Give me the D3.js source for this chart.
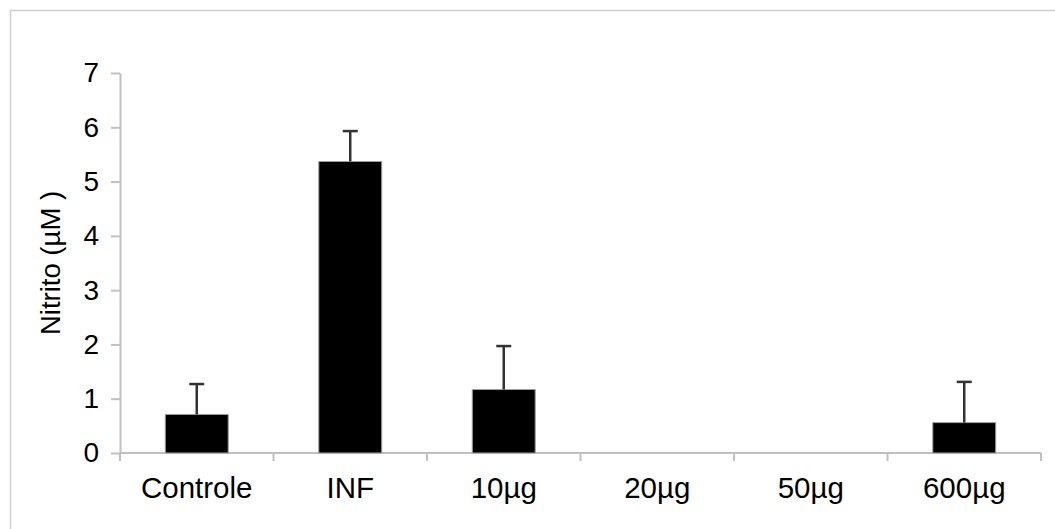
<!DOCTYPE html>
<html>
<head>
<meta charset="utf-8">
<script src="https://cdn.jsdelivr.net/npm/d3@7"></script>
<style>
  html, body { margin: 0; padding: 0; background: #fff; }
  svg { display: block; }
  text { font-family: "Liberation Sans", Arial, sans-serif; fill: #000; }
</style>
</head>
<body>
<svg id="chart" width="1055" height="529"></svg>
<script>
// Nitrite concentration per treatment group (mean and standard deviation, µM)
const categories = ["Controle", "INF", "10µg", "20µg", "50µg", "600µg"];
const means      = [0.71, 5.37, 1.17, 0, 0, 0.56];
const errors     = [0.56, 0.56, 0.80, 0, 0, 0.75];
const yTicks     = [0, 1, 2, 3, 4, 5, 6, 7];
const yLabel     = "Nitrito (µM )";

const svg = d3.select("#chart");
const margin = { left: 120, right: 1041, top: 73, bottom: 453 };

// outer frame of the chart area
svg.append("rect")
  .attr("x", 10.5).attr("y", 10.5)
  .attr("width", 1100).attr("height", 600)
  .attr("fill", "none").attr("stroke", "#d0d0d0").attr("stroke-width", 1.5);

const x = d3.scaleBand().domain(categories).range([margin.left, margin.right]).padding(0);
const y = d3.scaleLinear().domain([0, 7]).range([margin.bottom, margin.top]);

const axisColor = "#c0c0c0";

// y axis
const yAxis = svg.append("g")
  .attr("transform", `translate(${margin.left},0)`)
  .call(d3.axisLeft(y).tickValues(yTicks).tickFormat(d3.format("d")).tickSize(9).tickSizeOuter(0).tickPadding(12));
yAxis.select(".domain").attr("stroke", axisColor).attr("stroke-width", 2);
yAxis.selectAll(".tick line").attr("stroke", axisColor).attr("stroke-width", 2);
yAxis.selectAll(".tick text").attr("font-size", 28).attr("fill", "#000")
  .attr("font-family", "Liberation Sans, Arial, sans-serif");

// x axis: ticks sit on category boundaries
const xAxisG = svg.append("g").attr("transform", `translate(0,${margin.bottom})`);
xAxisG.append("line")
  .attr("x1", margin.left).attr("x2", margin.right)
  .attr("y1", 0).attr("y2", 0)
  .attr("stroke", axisColor).attr("stroke-width", 2);
const boundaries = categories.map(c => x(c)).concat([x(categories[categories.length - 1]) + x.bandwidth()]);
xAxisG.selectAll("line.tick")
  .data(boundaries)
  .join("line")
  .attr("class", "tick")
  .attr("x1", d => d).attr("x2", d => d)
  .attr("y1", 0).attr("y2", 8)
  .attr("stroke", axisColor).attr("stroke-width", 2);
xAxisG.selectAll("text")
  .data(categories)
  .join("text")
  .attr("x", d => x(d) + x.bandwidth() / 2)
  .attr("y", 45)
  .attr("text-anchor", "middle")
  .attr("font-size", 29.5)
  .text(d => d);

// bars
const barW = x.bandwidth() * 0.41;
const data = categories.map((c, i) => ({ c, v: means[i], e: errors[i] }));

svg.append("g").selectAll("rect")
  .data(data.filter(d => d.v > 0))
  .join("rect")
  .attr("x", d => x(d.c) + (x.bandwidth() - barW) / 2)
  .attr("y", d => y(d.v))
  .attr("width", barW)
  .attr("height", d => y(0) - y(d.v))
  .attr("fill", "#000")
  .attr("stroke", "#a0a0a0")
  .attr("stroke-width", 1);

// error bars (upper side with cap)
const errG = svg.append("g").attr("stroke", "#333").attr("stroke-width", 2.5);
data.filter(d => d.e > 0).forEach(d => {
  const cx = x(d.c) + x.bandwidth() / 2;
  errG.append("line")
    .attr("x1", cx).attr("x2", cx)
    .attr("y1", y(d.v)).attr("y2", y(d.v + d.e));
  errG.append("line")
    .attr("x1", cx - 7.5).attr("x2", cx + 7.5)
    .attr("y1", y(d.v + d.e)).attr("y2", y(d.v + d.e));
});

// y axis title
svg.append("text")
  .attr("transform", `translate(60,${(margin.top + margin.bottom) / 2}) rotate(-90)`)
  .attr("text-anchor", "middle")
  .attr("font-size", 27.5)
  .text(yLabel);
</script>
</body>
</html>
